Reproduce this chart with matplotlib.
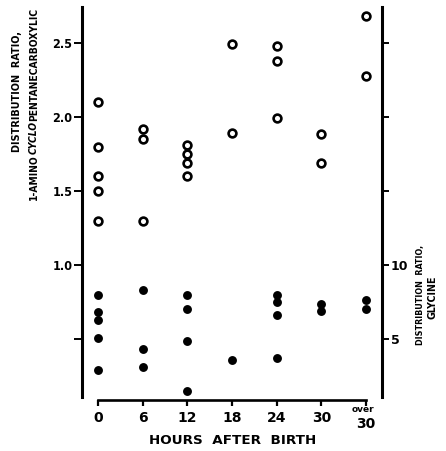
import matplotlib
matplotlib.use("Agg")
import matplotlib.pyplot as plt
from matplotlib import font_manager
from matplotlib.font_manager import FontProperties

# ---------------- data ----------------
hours_labels = ["0", "6", "12", "18", "24", "30", "over 30"]

# distribution ratio, 1-aminocyclopentanecarboxylic acid (open circles, left axis)
acpc_0 = [2.10, 1.80, 1.60, 1.50, 1.30]
acpc_6 = [1.92, 1.85, 1.30]
acpc_12 = [1.81, 1.75, 1.69, 1.60]
acpc_18 = [2.49, 1.89]
acpc_24 = [2.48, 2.38, 1.99]
acpc_30 = [1.885, 1.69]
acpc_over30 = [2.68, 2.28]

# distribution ratio, glycine (filled dots, right axis)
gly_0 = [8.0, 6.85, 6.3, 5.1, 2.9]
gly_6 = [8.3, 4.3, 3.1]
gly_12 = [8.0, 7.0, 4.85, 1.5]
gly_18 = [3.6]
gly_24 = [7.95, 7.5, 6.65, 3.7]
gly_30 = [7.35, 6.9]
gly_over30 = [7.6, 7.05]

acpc = [acpc_0, acpc_6, acpc_12, acpc_18, acpc_24, acpc_30, acpc_over30]
gly = [gly_0, gly_6, gly_12, gly_18, gly_24, gly_30, gly_over30]

left_ticks = [0.5, 1.0, 1.5, 2.0, 2.5]
left_ticklabels = ["", "1.0", "1.5", "2.0", "2.5"]
right_ticks = [5, 10, 15, 20, 25]
right_ticklabels = ["5", "10", "", "", ""]

# ---------------- fonts ----------------
LEROY = "DejaVu Sans"


def find_condensed(italic=False):
    best = None
    for f in font_manager.fontManager.ttflist:
        st = str(f.stretch).lower()
        nm = f.name.lower()
        cond = ("condensed" in st or "narrow" in st or "condensed" in nm
                or "narrow" in nm)
        if not cond or "extra" in st or "ultra" in st:
            continue
        if "mono" in nm:
            continue
        w = f.weight if isinstance(f.weight, int) else 700 if "bold" in str(f.weight) else 400
        is_it = f.style in ("italic", "oblique")
        if is_it != italic:
            continue
        score = abs(w - 700)
        if best is None or score < best[0]:
            best = (score, f.fname)
    if best is None:
        return FontProperties(family="Liberation Sans", weight="bold",
                              style="italic" if italic else "normal")
    return FontProperties(fname=best[1])


COND = find_condensed(False)
COND_IT = find_condensed(True)

W, H = 446, 451
fig = plt.figure(figsize=(W / 100, H / 100), dpi=100)
fig.patch.set_facecolor("white")

ax = fig.add_axes([82 / W, 1 - 397 / H, (382 - 82) / W, (397 - 7) / H])
ax.set_ylim(0.108, 2.743)
ax.set_xlim(-0.36, 6.36)

xs = list(range(len(hours_labels)))
for i, vals in zip(xs, acpc):
    ax.plot([i] * len(vals), vals, "o", ms=5.6, mfc="white", mec="black",
            mew=1.9, ls="none", clip_on=False, zorder=3)

ax2 = ax.twinx()
ax2.set_ylim(1.08, 27.43)
for i, vals in zip(xs, gly):
    ax2.plot([i] * len(vals), vals, "o", ms=6.4, color="black", mew=0,
             ls="none", clip_on=False, zorder=3)

# spines
for a in (ax, ax2):
    a.spines["top"].set_visible(False)
ax.spines["right"].set_visible(False)
ax2.spines["left"].set_visible(False)
ax2.spines["bottom"].set_visible(False)
ax.spines["left"].set_linewidth(2.2)
ax2.spines["right"].set_linewidth(2.2)
ax.spines["bottom"].set_linewidth(1.9)
ax.spines["bottom"].set_bounds(0, 6)
ax.spines["bottom"].set_position(("outward", 2.2))

# x ticks
ax.set_xticks(xs)
ax.set_xticklabels(hours_labels[:-1] + [""], fontfamily=LEROY,
                   fontweight="bold", fontsize=10)
ax.tick_params(axis="x", direction="out", length=4.5, width=1.6, pad=3.5)
ax.annotate("over", xy=(6, 0), xycoords=ax.get_xaxis_transform(),
            xytext=(-3, -12), textcoords="offset pixels", ha="center",
            va="center", fontsize=6.5, fontweight="bold", fontfamily=LEROY)
ax.annotate(hours_labels[-1].split()[-1], xy=(6, 0),
            xycoords=ax.get_xaxis_transform(), xytext=(0, -27),
            textcoords="offset pixels", ha="center", va="center",
            fontsize=10, fontweight="bold", fontfamily=LEROY)

# left ticks
ax.set_yticks(left_ticks)
ax.set_yticklabels(left_ticklabels)
for t in ax.get_yticklabels():
    t.set_fontproperties(COND)
    t.set_fontsize(9)
ax.tick_params(axis="y", direction="out", length=6, width=1.4, pad=0.8)

# right ticks
ax2.set_yticks(right_ticks)
ax2.set_yticklabels(right_ticklabels, fontfamily=LEROY, fontweight="bold", fontsize=9)
ax2.tick_params(axis="y", direction="out", length=5, width=1.4, pad=1.5)

# ---------------- labels ----------------
fig.canvas.draw()
rend = fig.canvas.get_renderer()


def fit_text(xc, yc, s, target, fp, rotation=90, size=9):
    t = fig.text(xc / W, 1 - yc / H, s, rotation=rotation, ha="center",
                 va="center", fontproperties=fp)
    t.set_fontsize(size)
    bb = t.get_window_extent(rend)
    length = bb.height if rotation == 90 else bb.width
    t.set_fontsize(size * target / length)
    return t


fit_text(17, 92, "DISTRIBUTION  RATIO,", 120, COND)
fit_text(421, 295, "DISTRIBUTION  RATIO,", 100, COND)
fit_text(433, 297, "GLYCINE", 43, COND)
fit_text(233, 440, "HOURS  AFTER  BIRTH", 167,
         FontProperties(family=LEROY, weight="bold"), rotation=0, size=10)

# mixed-style line: 1-AMINO + italic CYCLO + PENTANECARBOXYLIC
pieces = [("1-AMINO", COND), ("CYCLO", COND_IT), ("PENTANECARBOXYLIC", COND)]
x_line, y_bottom, y_top = 34, 200, 9
base = 9
lengths = []
for s, fp in pieces:
    t = fig.text(0, 0, s, rotation=90, fontproperties=fp)
    t.set_fontsize(base)
    lengths.append(t.get_window_extent(rend).height)
    t.remove()
scale = (y_bottom - y_top) / sum(lengths)
ypos = y_bottom
for (s, fp), L in zip(pieces, lengths):
    t = fig.text(x_line / W, 1 - ypos / H, s, rotation=90, ha="center",
                 va="bottom", fontproperties=fp)
    t.set_fontsize(base * scale)
    ypos -= L * scale

fig.savefig("out.png", dpi=100, facecolor="white")
